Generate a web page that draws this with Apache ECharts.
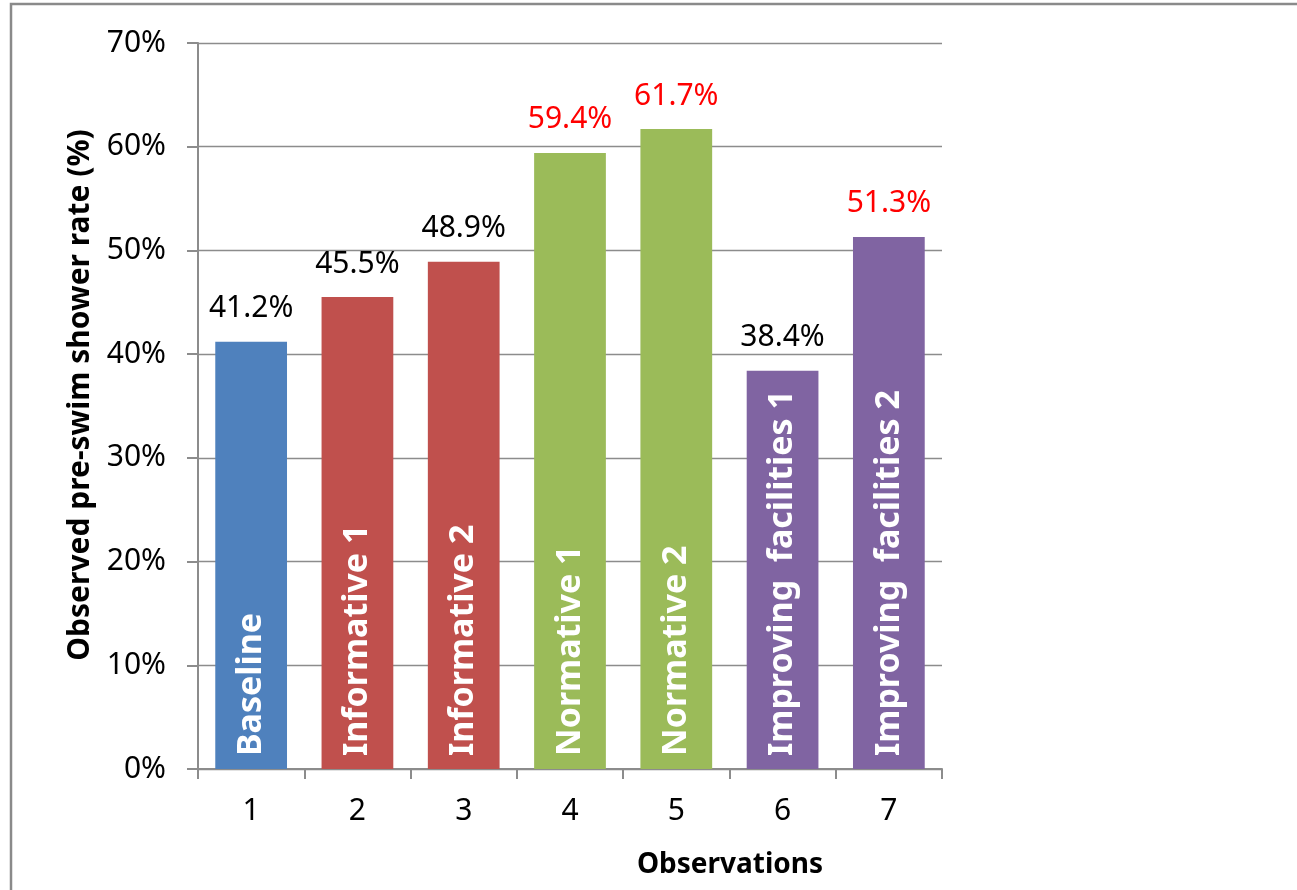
<!DOCTYPE html>
<html><head><meta charset="utf-8">
<script src="https://cdn.jsdelivr.net/npm/echarts@6/dist/echarts.min.js"></script>
<style>html,body{margin:0;padding:0;background:#fff}#c{width:1297px;height:890px}</style>
</head><body><div id="c"></div>
<script>
const categories = ['1','2','3','4','5','6','7'];
const values = [41.2, 45.5, 48.9, 59.4, 61.7, 38.4, 51.3];
const barNames = ['Baseline','Informative 1','Informative 2','Normative 1','Normative 2','Improving  facilities 1','Improving  facilities 2'];
const barColors = ['#4F81BD','#C0504D','#C0504D','#9BBB59','#9BBB59','#8064A2','#8064A2'];
const valueLabelColors = ['#000','#000','#000','#FF0000','#FF0000','#000','#FF0000'];
const yTicks = [0,10,20,30,40,50,60,70];

const chart = echarts.init(document.getElementById('c'));
const F = 'Noto Sans';
chart.setOption({
  animation:false,
  graphic:[{type:'rect',shape:{x:11,y:4,width:1400,height:1000},style:{fill:'none',stroke:'#8a8a8a',lineWidth:2.5},silent:true}],
  grid:{left:198,right:355,top:43,bottom:121},
  xAxis:{type:'category',data:categories,
    axisLine:{lineStyle:{color:'#8c8c8c',width:2}},
    axisTick:{show:true,length:10,lineStyle:{color:'#8c8c8c',width:2}},
    axisLabel:{color:'#000',fontFamily:F,fontSize:30,margin:27},
    name:'Observations',nameLocation:'middle',nameGap:82,
    nameTextStyle:{color:'#000',fontFamily:F,fontSize:28,fontWeight:'bold',padding:[0,0,0,320]}
  },
  yAxis:{type:'value',min:0,max:70,interval:10,
    axisLine:{show:true,lineStyle:{color:'#8c8c8c',width:2}},
    axisTick:{show:true,length:11,lineStyle:{color:'#8c8c8c',width:2}},
    splitLine:{lineStyle:{color:'#8c8c8c',width:1.3}},
    axisLabel:{color:'#000',fontFamily:F,fontSize:30,margin:32,formatter:v=>yTicks.includes(v)?v+'%':''},
    name:'Observed pre-swim shower rate (%)',nameLocation:'middle',nameGap:97,nameRotate:90,
    nameTextStyle:{color:'#000',fontFamily:F,fontSize:30,fontWeight:'bold',padding:[0,0,0,22]}
  },
  series:[
    {type:'bar',barWidth:'67.5%',
     data:values.map((v,i)=>({value:v,itemStyle:{color:barColors[i]},
        label:{show:true,position:'top',distance:18,formatter:v.toFixed(1)+'%',color:valueLabelColors[i],fontFamily:F,fontSize:30}})),
    },
    {type:'bar',barWidth:'67.5%',barGap:'-100%',
     data:values.map((v,i)=>({value:v,itemStyle:{color:'rgba(0,0,0,0)'},
        label:{show:true,position:'insideBottom',rotate:90,align:'left',verticalAlign:'middle',distance:13,
          formatter:barNames[i],color:'#fff',fontFamily:F,fontSize:34,fontWeight:'bold'}})),
     z:3
    }
  ]
});
</script></body></html>
